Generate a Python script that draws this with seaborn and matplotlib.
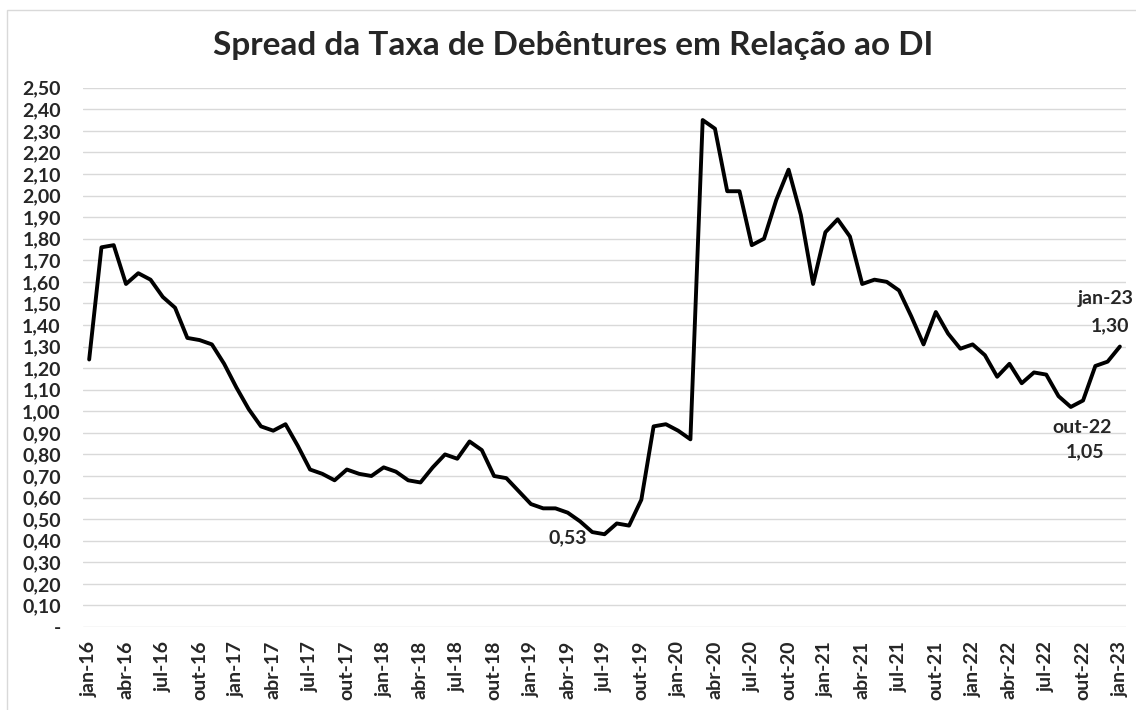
"""Spread da taxa de debêntures em relação ao DI (jan-16 a jan-23)."""

import matplotlib
matplotlib.use("Agg")
import matplotlib.pyplot as plt
import numpy as np
import pandas as pd
import seaborn as sns
from matplotlib.patches import Rectangle

# monthly spread, jan-16 .. jan-23
spread = [
    1.24, 1.76, 1.77, 1.59, 1.64, 1.61, 1.53, 1.48, 1.34, 1.33, 1.31, 1.22,   # 2016
    1.11, 1.01, 0.93, 0.91, 0.94, 0.84, 0.73, 0.71, 0.68, 0.73, 0.71, 0.70,   # 2017
    0.74, 0.72, 0.68, 0.67, 0.74, 0.80, 0.78, 0.86, 0.82, 0.70, 0.69, 0.63,   # 2018
    0.57, 0.55, 0.55, 0.53, 0.49, 0.44, 0.43, 0.48, 0.47, 0.59, 0.93, 0.94,   # 2019
    0.91, 0.87, 2.35, 2.31, 2.02, 2.02, 1.77, 1.80, 1.98, 2.12, 1.91, 1.59,   # 2020
    1.83, 1.89, 1.81, 1.59, 1.61, 1.60, 1.56, 1.44, 1.31, 1.46, 1.36, 1.29,   # 2021
    1.31, 1.26, 1.16, 1.22, 1.13, 1.18, 1.17, 1.07, 1.02, 1.05, 1.21, 1.23,   # 2022
    1.30,                                                                     # 2023
]
tick_labels = [
    "jan-16", "abr-16", "jul-16", "out-16",
    "jan-17", "abr-17", "jul-17", "out-17",
    "jan-18", "abr-18", "jul-18", "out-18",
    "jan-19", "abr-19", "jul-19", "out-19",
    "jan-20", "abr-20", "jul-20", "out-20",
    "jan-21", "abr-21", "jul-21", "out-21",
    "jan-22", "abr-22", "jul-22", "out-22",
    "jan-23",
]
y_ticks = [round(0.1 * k, 2) for k in range(26)]
# annotated points: (month index, caption above value or None)
callouts = [(39, None), (81, "out-22"), (84, "jan-23")]

sns.set_style("white")
plt.rcParams["font.family"] = ["Lato", "DejaVu Sans"]
plt.rcParams["font.weight"] = "bold"

FS = 14

df = pd.DataFrame({"mes": np.arange(len(spread)), "spread": spread})

fig = plt.figure(figsize=(11.36, 7.1), dpi=100)
ax = fig.add_axes([0.0731, 0.1169, 0.9181, 0.7596])

# chart frame (Excel style)
fig.patches.append(Rectangle((7 / 1136, -0.1), 1.2, 1.1 - 10 / 710,
                             transform=fig.transFigure, fill=False,
                             edgecolor="#d9d9d9", linewidth=1.0))

ax.set_yticks(y_ticks)
ax.yaxis.grid(True, color="#d9d9d9", linewidth=1.0)
ax.set_axisbelow(True)

sns.lineplot(data=df, x="mes", y="spread", ax=ax, color="black",
             linewidth=2.8, legend=False)

ax.set_xlim(-0.5, len(spread) - 0.5)
ax.set_ylim(0, 2.5)
ax.set_xticks(np.arange(0, len(spread), 3))
ax.set_xticklabels(tick_labels, rotation=90, fontsize=FS, fontweight="bold")
ax.set_yticklabels(["-" if v == 0 else f"{v:.2f}".replace(".", ",")
                    for v in y_ticks], fontsize=FS, fontweight="bold")
ax.tick_params(axis="both", length=0)
ax.tick_params(axis="x", pad=10)
ax.tick_params(axis="y", pad=16)
for side in ax.spines.values():
    side.set_visible(False)
ax.set_xlabel("")
ax.set_ylabel("")

for idx, caption in callouts:
    val = spread[idx]
    txt = f"{val:.2f}".replace(".", ",")
    if caption is None:
        ax.annotate(txt, (idx, val), xytext=(0, -25), textcoords="offset pixels",
                    ha="center", va="center", fontsize=FS, fontweight="bold")
    elif idx == len(spread) - 1:
        ax.annotate(caption, (idx, val), xytext=(-14, 48), textcoords="offset pixels",
                    ha="center", va="center", fontsize=FS, fontweight="bold",
                    annotation_clip=False)
        ax.annotate(txt, (idx, val), xytext=(-10, 21), textcoords="offset pixels",
                    ha="center", va="center", fontsize=FS, fontweight="bold",
                    annotation_clip=False)
    else:
        ax.annotate(caption, (idx, val), xytext=(-1, -27), textcoords="offset pixels",
                    ha="center", va="center", fontsize=FS, fontweight="bold")
        ax.annotate(txt, (idx, val), xytext=(2, -51), textcoords="offset pixels",
                    ha="center", va="center", fontsize=FS, fontweight="bold")

fig.text(0.505, 1 - 45 / 710, "Spread da Taxa de Debêntures em Relação ao DI",
         ha="center", va="center", fontsize=24, fontweight="bold")

fig.savefig("out.png", dpi=100)
plt.close(fig)
